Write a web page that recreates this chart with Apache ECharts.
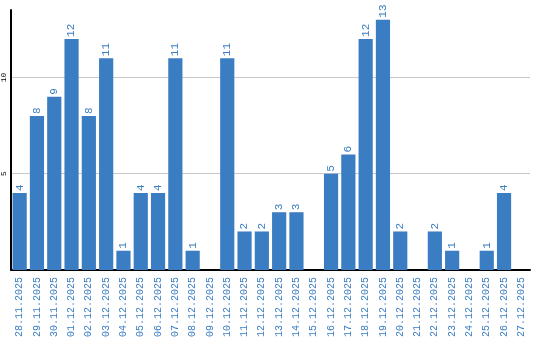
<!DOCTYPE html>
<html>
<head>
<meta charset="utf-8">
<script src="https://cdn.jsdelivr.net/npm/echarts@6/dist/echarts.min.js"></script>
<style>
  html, body { margin: 0; padding: 0; background: #fff; }
  #chart { width: 540px; height: 340px; }
</style>
</head>
<body>
<div id="chart"></div>
<script>
// days and counts
const days = [
  '28.11.2025', '29.11.2025', '30.11.2025', '01.12.2025', '02.12.2025', '03.12.2025',
  '04.12.2025', '05.12.2025', '06.12.2025', '07.12.2025', '08.12.2025', '09.12.2025',
  '10.12.2025', '11.12.2025', '12.12.2025', '13.12.2025', '14.12.2025', '15.12.2025',
  '16.12.2025', '17.12.2025', '18.12.2025', '19.12.2025', '20.12.2025', '21.12.2025',
  '22.12.2025', '23.12.2025', '24.12.2025', '25.12.2025', '26.12.2025', '27.12.2025'
]
const counts = [4, 8, 9, 12, 8, 11, 1, 4, 4, 11, 1, 0, 11, 2, 2, 3, 3, 0, 5, 6, 12, 13, 2, 0, 2, 1, 0, 1, 4, 0]

const blue = '#3b7dc3'
const mono = 'Liberation Mono'

let chart = echarts.init(document.getElementById('chart'))
let option = {
  animation: false,
  grid: { left: 10, right: 10, top: 10, bottom: 70 },
  xAxis: {
    type: 'category',
    data: days,
    axisLine: { lineStyle: { color: '#000', width: 2 } },
    axisTick: { show: false },
    axisLabel: {
      rotate: 90,
      interval: 0,
      color: blue,
      fontFamily: mono,
      fontSize: 10,
      margin: 7
    }
  },
  yAxis: {
    type: 'value',
    min: 0,
    max: 13.5,
    interval: 5,
    axisLine: { show: true, lineStyle: { color: '#000', width: 2 } },
    axisTick: { show: false },
    splitLine: { showMinLine: false, showMaxLine: false, lineStyle: { color: '#c8c8c8' } },
    axisLabel: {
      rotate: 90,
      showMinLabel: false,
      showMaxLabel: false,
      color: '#000',
      fontFamily: mono,
      fontSize: 8,
      margin: 3
    }
  },
  series: [
    {
      type: 'bar',
      data: counts.map(v => v === 0 ? null : v),
      barCategoryGap: '18%',
      itemStyle: { color: blue },
      label: {
        show: true,
        position: 'top',
        rotate: 90,
        align: 'left',
        verticalAlign: 'middle',
        distance: 2,
        color: blue,
        fontFamily: mono,
        fontSize: 11
      }
    }
  ]
}
chart.setOption(option)
</script>
</body>
</html>
